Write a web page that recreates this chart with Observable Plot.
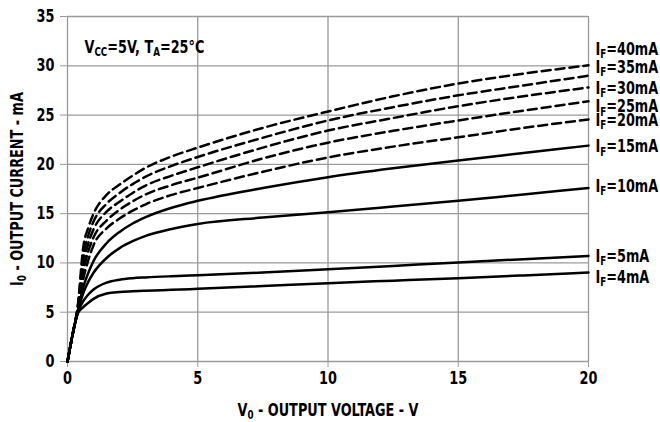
<!DOCTYPE html>
<html>
<head>
<meta charset="utf-8">
<script src="https://cdn.jsdelivr.net/npm/d3@7"></script>
<script src="https://cdn.jsdelivr.net/npm/@observablehq/plot@0.6"></script>
<style>
  html, body { margin: 0; padding: 0; background: #fff; }
  #chart { width: 660px; height: 422px; }
</style>
</head>
<body>
<div id="chart"></div>
<script>
// Output voltage sample points (V)
const vo = [0, 0.2, 0.4, 0.6, 0.8, 1, 1.5, 2, 2.5, 3, 4, 5, 7.5, 10, 12.5, 15, 17.5, 20];
// Output current (mA) for each forward current
const if40 = [0, 2.8, 5.8, 11.5, 13.6, 15.0, 16.9, 17.95, 18.85, 19.65, 20.8, 21.7, 23.7, 25.36, 26.9, 28.2, 29.2, 30.05];
const if35 = [0, 2.8, 5.6, 10.6, 12.8, 14.2, 16.0, 17.1, 18.0, 18.75, 19.85, 20.75, 22.7, 24.45, 25.8, 27.0, 28.0, 29.0];
const if30 = [0, 2.8, 5.5, 9.8, 12.0, 13.4, 15.2, 16.2, 17.1, 17.85, 18.85, 19.7, 21.7, 23.43, 24.7, 25.9, 26.9, 27.8];
const if25 = [0, 2.8, 5.4, 9.0, 11.2, 12.6, 14.3, 15.4, 16.25, 16.95, 17.9, 18.65, 20.6, 22.2, 23.4, 24.45, 25.45, 26.4];
const if20 = [0, 2.8, 5.3, 8.3, 10.3, 11.8, 13.5, 14.5, 15.3, 15.95, 16.9, 17.6, 19.25, 20.7, 21.8, 22.75, 23.7, 24.55];
const if15 = [0, 2.8, 5.2, 7.5, 9.0, 10.2, 12.0, 13.15, 14.0, 14.65, 15.6, 16.3, 17.6, 18.7, 19.6, 20.4, 21.15, 21.9];
const if10 = [0, 2.8, 5.1, 6.9, 8.1, 9.0, 10.5, 11.5, 12.2, 12.75, 13.45, 13.95, 14.6, 15.15, 15.72, 16.3, 16.95, 17.6];
const if5  = [0, 2.8, 5.0, 6.1, 6.8, 7.3, 8.0, 8.3, 8.45, 8.53, 8.65, 8.75, 9.02, 9.35, 9.7, 10.05, 10.38, 10.7];
const if4  = [0, 2.8, 4.9, 5.5, 5.95, 6.35, 6.9, 7.05, 7.12, 7.18, 7.27, 7.37, 7.65, 7.95, 8.2, 8.45, 8.73, 9.03];

const seriesNames = ["I_{F}=40mA", "I_{F}=35mA", "I_{F}=30mA", "I_{F}=25mA", "I_{F}=20mA", "I_{F}=15mA", "I_{F}=10mA", "I_{F}=5mA", "I_{F}=4mA"];
const seriesValues = [if40, if35, if30, if25, if20, if15, if10, if5, if4];
const dashedSeries = [true, true, true, true, true, false, false, false, false];
const labelY = [31.65, 29.83, 27.7, 25.86, 24.45, 21.8, 17.75, 10.65, 8.52];

const xTicks = [0, 5, 10, 15, 20];
const yTicks = [0, 5, 10, 15, 20, 25, 30, 35];
const xTitle = "V_{0} - OUTPUT VOLTAGE - V";
const yTitle = "I_{0} - OUTPUT CURRENT - mA";
const note = "V_{CC}=5V, T_{A}=25°C";

const rows = [];
seriesNames.forEach((name, i) => {
  vo.forEach((v, j) => rows.push({name, v, i: seriesValues[i][j], dashed: dashedSeries[i]}));
});
const labels = seriesNames.map((name, i) => ({name, v: vo[vo.length - 1], y: labelY[i]}));

const FONT = "'DejaVu Sans Condensed', 'Liberation Sans Narrow', sans-serif";
const GRID = "#9a9a9a";

const plot = Plot.plot({
  width: 660,
  height: 422,
  marginLeft: 67,
  marginRight: 72,
  marginTop: 16,
  marginBottom: 61,
  style: {fontFamily: FONT, fontSize: "17px", fontWeight: "bold", color: "#000", background: "#fff"},
  x: {domain: [0, 20]},
  y: {domain: [0, 35]},
  marks: [
    Plot.ruleX(xTicks, {stroke: GRID, strokeWidth: 1.3, strokeOpacity: 1}),
    Plot.ruleY(yTicks, {stroke: GRID, strokeWidth: 1.3, strokeOpacity: 1}),
    Plot.axisX({ticks: xTicks, tickSize: 6, tickPadding: 4, stroke: GRID, strokeOpacity: 1,
      label: xTitle, labelAnchor: "center", labelArrow: "none", labelOffset: 54, fontSize: 17}),
    Plot.axisY({ticks: yTicks, tickSize: 7, tickPadding: 6, stroke: GRID, strokeOpacity: 1,
      label: yTitle, labelAnchor: "center", labelArrow: "none", labelOffset: 57, fontSize: 17}),
    Plot.line(rows.filter(d => !d.dashed), {x: "v", y: "i", z: "name", stroke: "#000", strokeWidth: 2.5, curve: "monotone-x"}),
    Plot.line(rows.filter(d => d.dashed), {x: "v", y: "i", z: "name", stroke: "#000", strokeWidth: 2.5, strokeDasharray: "9,5", curve: "monotone-x"}),
    Plot.text(labels, {x: "v", y: "y", text: "name", dx: 7, textAnchor: "start", fill: "#000", fontSize: 17, className: "iflabel"}),
    Plot.text([note], {frameAnchor: "top-left", dx: 17, dy: 24, textAnchor: "start", fontSize: 17, fill: "#000"})
  ]
});

// Turn "_{..}" markers into real subscripts
d3.select(plot).selectAll("text").each(function() {
  const el = this;
  const t = el.textContent;
  if (!t.includes("_{")) return;
  const parts = t.split(/(_\{[^}]*\})/).filter(s => s.length);
  while (el.firstChild) el.removeChild(el.firstChild);
  let wasSub = false;
  parts.forEach(p => {
    const ts = document.createElementNS("http://www.w3.org/2000/svg", "tspan");
    if (p.startsWith("_{")) {
      ts.textContent = p.slice(2, -1);
      ts.setAttribute("font-size", "0.68em");
      ts.setAttribute("dy", "0.3em");
      wasSub = true;
    } else {
      ts.textContent = p;
      if (wasSub) ts.setAttribute("dy", "-0.2em");
      wasSub = false;
    }
    el.appendChild(ts);
  });
});

document.getElementById("chart").appendChild(plot);

// Narrow the glyphs to imitate a condensed bold face
const SQUEEZE = 0.84;
d3.select(plot).selectAll("text").each(function() {
  const len = this.getComputedTextLength();
  if (len > 0) {
    this.setAttribute("textLength", (len * SQUEEZE).toFixed(1));
    this.setAttribute("lengthAdjust", "spacingAndGlyphs");
  }
});
</script>
</body>
</html>
